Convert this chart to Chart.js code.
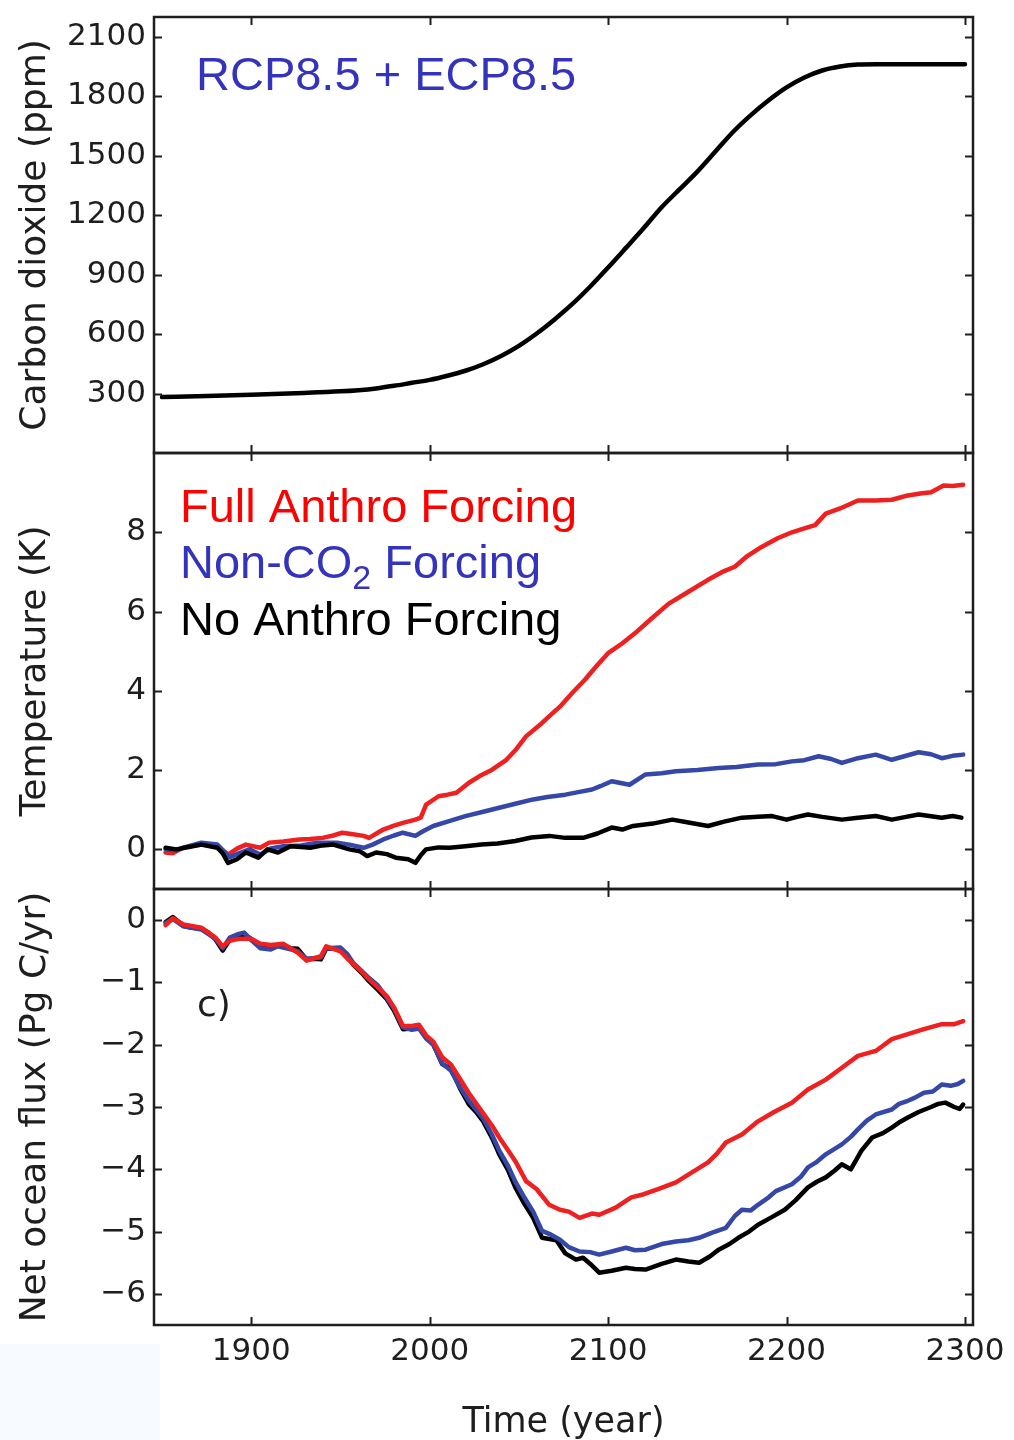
<!DOCTYPE html>
<html>
<head>
<meta charset="utf-8">
<script src="https://cdn.jsdelivr.net/npm/chart.js@4.4.1/dist/chart.umd.min.js"></script>
<style>
  html, body { margin: 0; padding: 0; background: #fff; }
  #wrap { position: relative; width: 1014px; height: 1440px; overflow: hidden; }
  #wrap canvas { position: absolute; left: 0; top: 0; }
  #patch { position: absolute; left: 0; top: 1344px; width: 160px; height: 96px; background: #f7fbff; }
</style>
</head>
<body>
<div id="wrap">
  <div id="patch"></div>
  <canvas id="c-co2"  width="1014" height="1440"></canvas>
  <canvas id="c-temp" width="1014" height="1440"></canvas>
  <canvas id="c-flux" width="1014" height="1440"></canvas>
</div>
<script>
'use strict';
// ---------- Data ----------

const yearTicks = [1900, 2000, 2100, 2200, 2300];

// a) carbon dioxide, RCP8.5 + ECP8.5
const co2Years = [1850, 1875, 1900, 1925, 1950, 1960, 1970, 1980, 1990, 2000, 2010, 2020, 2030, 2040,
    2050, 2060, 2070, 2080, 2090, 2100, 2110, 2120, 2130, 2140, 2150, 2160, 2170, 2180, 2190, 2200,
    2210, 2220, 2230, 2240, 2250, 2275, 2300];
const co2Ppm = [282, 287, 294, 302, 311, 317, 326, 339, 354, 369, 390, 415, 448, 490,
    541, 603, 674, 752, 840, 936, 1035, 1135, 1240, 1330, 1420, 1520, 1620, 1705, 1780, 1845,
    1895, 1930, 1950, 1960, 1962, 1962, 1962];
const co2Ticks = [300, 600, 900, 1200, 1500, 1800, 2100];

// b) temperature anomaly (K)
const tFullYears = [1852, 1856, 1862, 1872, 1881, 1887, 1892, 1897, 1905, 1910, 1918, 1927, 1933, 1940,
    1946, 1951, 1957, 1963, 1966, 1974, 1980, 1985, 1992, 1995, 1998, 2005, 2010, 2015, 2022, 2028,
    2035, 2043, 2048, 2054, 2063, 2068, 2073, 2080, 2087, 2094, 2100, 2108, 2115, 2125, 2134, 2145,
    2156, 2164, 2171, 2178, 2186, 2195, 2203, 2210, 2216, 2222, 2230, 2240, 2250, 2259, 2268, 2275,
    2281, 2288, 2293, 2299];
const tFull = [-0.08, -0.1, 0.05, 0.12, 0.08, -0.13, 0.02, 0.12, 0.04, 0.17, 0.2, 0.25, 0.26, 0.29,
    0.35, 0.42, 0.38, 0.34, 0.29, 0.5, 0.6, 0.67, 0.75, 0.8, 1.13, 1.34, 1.38, 1.43, 1.68, 1.85,
    2.01, 2.26, 2.5, 2.85, 3.19, 3.4, 3.6, 3.95, 4.28, 4.65, 4.95, 5.2, 5.45, 5.85, 6.2, 6.5,
    6.8, 7.0, 7.13, 7.4, 7.63, 7.85, 8.0, 8.1, 8.18, 8.47, 8.6, 8.8, 8.8, 8.82, 8.93, 8.98,
    9.01, 9.18, 9.17, 9.2];

const tNonCo2Years = [1852, 1858, 1865, 1872, 1881, 1888, 1893, 1899, 1905, 1911, 1918, 1928, 1937, 1948,
    1955, 1963, 1968, 1974, 1980, 1985, 1992, 1996, 2002, 2010, 2020, 2030, 2039, 2048, 2058, 2066,
    2076, 2084, 2091, 2096, 2102, 2112, 2121, 2130, 2138, 2150, 2162, 2172, 2184, 2194, 2203, 2210,
    2218, 2225, 2231, 2240, 2250, 2259, 2266, 2274, 2281, 2287, 2293, 2299];
const tNonCo2 = [0.0, -0.02, 0.08, 0.17, 0.12, -0.2, -0.1, 0.0, -0.13, 0.02, 0.08, 0.1, 0.17, 0.17,
    0.12, 0.04, 0.12, 0.25, 0.35, 0.42, 0.34, 0.45, 0.59, 0.7, 0.84, 0.95, 1.05, 1.15, 1.26, 1.32,
    1.38, 1.45, 1.51, 1.6, 1.72, 1.63, 1.89, 1.92, 1.97, 2.0, 2.05, 2.08, 2.14, 2.15, 2.22, 2.25,
    2.35, 2.28, 2.18, 2.3, 2.39, 2.26, 2.35, 2.45, 2.4, 2.3, 2.36, 2.39];

const tNoneYears = [1852, 1858, 1865, 1872, 1881, 1884, 1887, 1892, 1897, 1904, 1909, 1915, 1922, 1928,
    1933, 1940, 1946, 1955, 1961, 1965, 1970, 1976, 1981, 1988, 1992, 1995, 1998, 2005, 2011, 2020,
    2029, 2038, 2048, 2057, 2067, 2076, 2086, 2094, 2102, 2108, 2114, 2125, 2136, 2145, 2156, 2165,
    2175, 2184, 2192, 2200, 2206, 2212, 2220, 2231, 2240, 2250, 2259, 2267, 2274, 2280, 2287, 2293, 2298];
const tNone = [0.04, 0.0, 0.06, 0.12, 0.04, -0.1, -0.34, -0.25, -0.08, -0.21, 0.0, -0.08, 0.08, 0.06,
    0.04, 0.1, 0.12, 0.0, -0.05, -0.17, -0.08, -0.12, -0.21, -0.25, -0.34, -0.15, 0.0, 0.05, 0.04, 0.08,
    0.12, 0.15, 0.21, 0.3, 0.34, 0.29, 0.29, 0.4, 0.55, 0.5, 0.59, 0.65, 0.75, 0.68, 0.59, 0.7,
    0.8, 0.82, 0.84, 0.75, 0.82, 0.88, 0.82, 0.75, 0.8, 0.84, 0.75, 0.82, 0.88, 0.84, 0.8, 0.84, 0.8];
const tempTicks = [0, 2, 4, 6, 8];

// c) net ocean flux (Pg C/yr)
const fFullYears = [1852, 1856, 1862, 1872, 1880, 1884, 1888, 1893, 1900, 1905, 1911, 1918, 1922, 1926,
    1931, 1939, 1942, 1950, 1954, 1957, 1962, 1966, 1971, 1976, 1980, 1985, 1990, 1994, 1998, 2002,
    2007, 2012, 2017, 2022, 2030, 2035, 2039, 2044, 2048, 2054, 2060, 2067, 2073, 2078, 2084, 2091,
    2095, 2104, 2113, 2120, 2128, 2138, 2147, 2156, 2161, 2166, 2175, 2184, 2193, 2203, 2212, 2222,
    2231, 2240, 2250, 2259, 2268, 2277, 2287, 2294, 2299];
const fFull = [-0.08, 0.03, -0.07, -0.12, -0.28, -0.42, -0.33, -0.3, -0.3, -0.38, -0.4, -0.38, -0.45, -0.52,
    -0.65, -0.58, -0.42, -0.5, -0.62, -0.7, -0.83, -0.95, -1.08, -1.22, -1.4, -1.7, -1.7, -1.68, -1.85, -1.95,
    -2.2, -2.32, -2.55, -2.78, -3.1, -3.3, -3.49, -3.7, -3.87, -4.19, -4.32, -4.57, -4.65, -4.68, -4.78, -4.71,
    -4.73, -4.62, -4.45, -4.4, -4.32, -4.21, -4.05, -3.89, -3.75, -3.57, -3.44, -3.23, -3.08, -2.93, -2.72, -2.56,
    -2.37, -2.18, -2.1, -1.91, -1.83, -1.75, -1.67, -1.67, -1.62];

const fNonCo2Years = [1852, 1856, 1862, 1872, 1880, 1884, 1888, 1893, 1896, 1900, 1905, 1911, 1915, 1922,
    1926, 1931, 1939, 1942, 1950, 1954, 1957, 1962, 1966, 1971, 1976, 1980, 1985, 1990, 1994, 1998,
    2002, 2007, 2012, 2017, 2022, 2030, 2035, 2039, 2044, 2048, 2053, 2058, 2063, 2068, 2073, 2078,
    2084, 2090, 2095, 2102, 2110, 2115, 2121, 2130, 2138, 2145, 2151, 2158, 2166, 2171, 2175, 2180,
    2184, 2190, 2194, 2203, 2208, 2212, 2217, 2222, 2231, 2236, 2240, 2245, 2250, 2259, 2263, 2268,
    2272, 2277, 2282, 2287, 2292, 2296, 2299];
const fNonCo2 = [-0.05, 0.02, -0.1, -0.15, -0.3, -0.45, -0.28, -0.22, -0.2, -0.32, -0.45, -0.47, -0.42, -0.47,
    -0.5, -0.62, -0.6, -0.45, -0.44, -0.55, -0.68, -0.82, -0.93, -1.05, -1.25, -1.42, -1.72, -1.76, -1.74, -1.9,
    -2.0, -2.3, -2.42, -2.68, -2.9, -3.18, -3.45, -3.7, -3.95, -4.2, -4.45, -4.68, -4.99, -5.05, -5.13, -5.25,
    -5.32, -5.33, -5.37, -5.32, -5.26, -5.3, -5.29, -5.2, -5.16, -5.14, -5.1, -5.02, -4.94, -4.75, -4.65, -4.66,
    -4.57, -4.45, -4.35, -4.24, -4.12, -3.97, -3.88, -3.76, -3.6, -3.48, -3.36, -3.22, -3.12, -3.04, -2.95, -2.9,
    -2.85, -2.77, -2.75, -2.64, -2.66, -2.63, -2.58];

const fNoneYears = [1852, 1856, 1862, 1866, 1872, 1876, 1880, 1884, 1888, 1892, 1896, 1900, 1905, 1911,
    1915, 1918, 1922, 1926, 1931, 1935, 1939, 1942, 1946, 1950, 1954, 1957, 1962, 1966, 1971, 1976,
    1980, 1985, 1990, 1994, 1998, 2002, 2007, 2012, 2017, 2022, 2026, 2030, 2035, 2039, 2044, 2048,
    2053, 2058, 2063, 2067, 2071, 2076, 2082, 2086, 2090, 2095, 2102, 2110, 2115, 2121, 2130, 2138,
    2145, 2151, 2157, 2162, 2168, 2173, 2179, 2184, 2191, 2199, 2205, 2212, 2217, 2222, 2227, 2231,
    2236, 2242, 2248, 2254, 2259, 2263, 2268, 2274, 2281, 2285, 2289, 2294, 2297, 2299];
const fNone = [-0.03, 0.05, -0.09, -0.12, -0.14, -0.2, -0.31, -0.49, -0.31, -0.28, -0.23, -0.3, -0.43, -0.43,
    -0.4, -0.41, -0.45, -0.46, -0.63, -0.62, -0.63, -0.46, -0.45, -0.46, -0.58, -0.71, -0.85, -0.98, -1.12, -1.27,
    -1.45, -1.75, -1.74, -1.72, -1.88, -1.99, -2.31, -2.39, -2.7, -2.96, -3.08, -3.23, -3.5, -3.76, -4.02, -4.29,
    -4.55, -4.78, -5.1, -5.12, -5.14, -5.35, -5.45, -5.42, -5.52, -5.66, -5.63, -5.58, -5.6, -5.61, -5.52, -5.45,
    -5.48, -5.5, -5.4, -5.29, -5.2, -5.1, -5.0, -4.89, -4.78, -4.65, -4.5, -4.29, -4.2, -4.13, -4.02, -3.92,
    -4.0, -3.7, -3.49, -3.42, -3.33, -3.25, -3.17, -3.08, -3.0, -2.95, -2.93, -3.0, -3.03, -2.96];
const fluxTicks = [-6, -5, -4, -3, -2, -1, 0];

// ---------- Layout / style ----------
const W = 1014, H = 1440;
const PLOT_LEFT = 154, PLOT_RIGHT = 973;
const X_MIN = 1845.5, X_MAX = 2304.5;
const TICK_FONT  = { family: '"DejaVu Sans", sans-serif', size: 31 };
const TITLE_FONT = { family: '"DejaVu Sans", sans-serif', size: 36 };
const INK = '#1e1e1e';
const RED = '#ee2020', BLUE = '#3548a8', BLACK = '#000000';

const pts = (xs, ys) => xs.map((x, i) => ({ x, y: ys[i] }));
const minus = v => (v < 0 ? '\u2212' + Math.abs(v) : String(v));

function line(data, color, width, smooth) {
    return {
        data, borderColor: color, borderWidth: width, pointRadius: 0,
        tension: smooth ? 0.4 : 0, cubicInterpolationMode: smooth ? 'monotone' : 'default',
        borderJoinStyle: 'round', borderCapStyle: 'round', fill: false,
    };
}

// matplotlib-style box with inward ticks on all four sides
const frameTicks = {
    id: 'frameTicks',
    afterDatasetsDraw(chart) {
        const { ctx, chartArea: a, scales } = chart;
        const tl = 8;
        ctx.save();
        ctx.strokeStyle = INK;
        ctx.lineWidth = 2;
        ctx.beginPath();
        yearTicks.forEach(v => {
            const px = Math.round(scales.x.getPixelForValue(v)) + 0.5;
            ctx.moveTo(px, a.top);    ctx.lineTo(px, a.top + tl);
            ctx.moveTo(px, a.bottom); ctx.lineTo(px, a.bottom - tl);
        });
        scales.y.ticks.forEach(t => {
            const py = Math.round(scales.y.getPixelForValue(t.value)) + 0.5;
            ctx.moveTo(a.left, py);  ctx.lineTo(a.left + tl, py);
            ctx.moveTo(a.right, py); ctx.lineTo(a.right - tl, py);
        });
        ctx.stroke();
        ctx.lineWidth = 2.5;
        ctx.strokeRect(a.left, a.top, a.right - a.left, a.bottom - a.top);
        ctx.restore();
    },
};

// free text inside a panel (labels, legend); drawn relative to the plot area
function textPlugin(id, items) {
    return {
        id,
        afterDraw(chart) {
            const { ctx, chartArea: a } = chart;
            ctx.save();
            ctx.textBaseline = 'alphabetic';
            items.forEach(it => {
                let x = a.left + it.dx;
                it.parts.forEach(p => {
                    ctx.font = p.font;
                    ctx.fillStyle = it.color;
                    ctx.fillText(p.text, x, a.top + it.dy + (p.shift || 0));
                    x += ctx.measureText(p.text).width;
                });
            });
            ctx.restore();
        },
    };
}

function panelOptions({ top, bottom, yMin, yMax, yTicks, yTitle, showX }) {
    return {
        responsive: false,
        animation: false,
        events: [],
        layout: { padding: { left: 0, right: W - PLOT_RIGHT, top, bottom: showX ? 0 : H - bottom } },
        plugins: { legend: { display: false }, tooltip: { enabled: false } },
        scales: {
            x: {
                type: 'linear', min: X_MIN, max: X_MAX,
                display: showX,
                afterBuildTicks: s => { s.ticks = yearTicks.map(v => ({ value: v })); },
                afterFit: s => {
                    if (showX) s.height = H - bottom;
                    s.paddingLeft = 0; s.paddingRight = 0;
                },
                grid: { display: false, drawTicks: false },
                border: { display: false },
                ticks: { font: TICK_FONT, color: INK, padding: 8, maxRotation: 0, callback: v => String(v) },
                title: { display: showX, text: 'Time (year)', font: { ...TITLE_FONT, size: 35 }, color: INK,
                         padding: { top: 0, bottom: -4 } },
            },
            y: {
                type: 'linear', min: yMin, max: yMax,
                afterBuildTicks: s => { s.ticks = yTicks.map(v => ({ value: v })); },
                afterFit: s => { s.width = PLOT_LEFT; s.paddingTop = 0; s.paddingBottom = 0; },
                grid: { display: false, drawTicks: false },
                border: { display: false },
                ticks: { font: TICK_FONT, color: INK, padding: 8, callback: minus },
                title: { display: true, text: yTitle, font: TITLE_FONT, color: INK, padding: { top: 14, bottom: 0 } },
            },
        },
    };
}

const LEGEND_FONT = '47px "Liberation Sans", Arial, sans-serif';

// ---------- a) CO2 ----------
new Chart(document.getElementById('c-co2'), {
    type: 'line',
    data: { datasets: [line(pts(co2Years, co2Ppm), BLACK, 4.5, true)] },
    options: panelOptions({ top: 17, bottom: 453, yMin: 0, yMax: 2200, yTicks: co2Ticks,
                            yTitle: 'Carbon dioxide (ppm)', showX: false }),
    plugins: [frameTicks, textPlugin('co2Label', [
        { dx: 42, dy: 73, color: '#3333bb', parts: [{ text: 'RCP8.5 + ECP8.5', font: LEGEND_FONT }] },
    ])],
});

// ---------- b) Temperature ----------
new Chart(document.getElementById('c-temp'), {
    type: 'line',
    data: { datasets: [
        line(pts(tNoneYears, tNone), BLACK, 4.5, false),
        line(pts(tNonCo2Years, tNonCo2), BLUE, 4.5, false),
        line(pts(tFullYears, tFull), RED, 4.5, false),
    ] },
    options: panelOptions({ top: 453, bottom: 889, yMin: -1, yMax: 10, yTicks: tempTicks,
                            yTitle: 'Temperature (K)', showX: false }),
    plugins: [frameTicks, textPlugin('tempLegend', [
        { dx: 26, dy: 69, color: '#ff0000', parts: [{ text: 'Full Anthro Forcing', font: LEGEND_FONT }] },
        { dx: 26, dy: 125, color: '#3333bb', parts: [
            { text: 'Non-CO', font: LEGEND_FONT },
            { text: '2', font: '34px "Liberation Sans", Arial, sans-serif', shift: 11 },
            { text: ' Forcing', font: LEGEND_FONT },
        ] },
        { dx: 26, dy: 182, color: '#000000', parts: [{ text: 'No Anthro Forcing', font: LEGEND_FONT }] },
    ])],
});

// ---------- c) Net ocean flux ----------
new Chart(document.getElementById('c-flux'), {
    type: 'line',
    data: { datasets: [
        line(pts(fFullYears, fFull), RED, 4.5, false),
        line(pts(fNonCo2Years, fNonCo2), BLUE, 4.5, false),
        line(pts(fNoneYears, fNone), BLACK, 4.5, false),
    ] },
    options: panelOptions({ top: 889, bottom: 1325, yMin: -6.5, yMax: 0.5, yTicks: fluxTicks,
                            yTitle: 'Net ocean flux (Pg C/yr)', showX: true }),
    plugins: [frameTicks, textPlugin('fluxLabel', [
        { dx: 43, dy: 127, color: INK, parts: [{ text: 'c)', font: '36px "DejaVu Sans", sans-serif' }] },
    ])],
});
</script>
</body>
</html>
